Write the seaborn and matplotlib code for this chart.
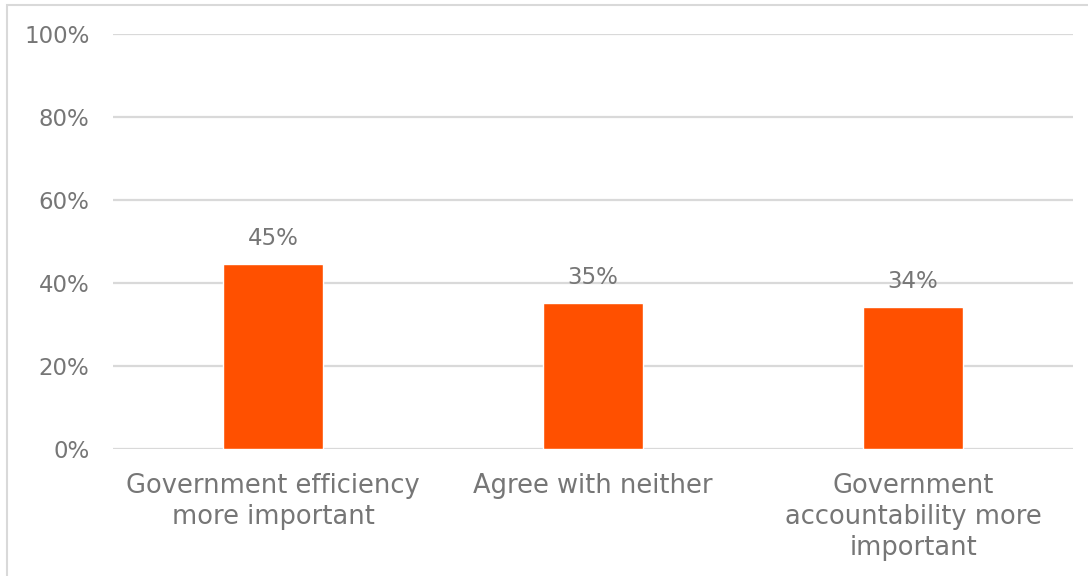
import matplotlib
matplotlib.use("Agg")
import matplotlib.pyplot as plt
import seaborn as sns
import pandas as pd
from matplotlib.patches import Rectangle
from matplotlib.ticker import PercentFormatter

categories = [
    "Government efficiency\nmore important",
    "Agree with neither",
    "Government\naccountability more\nimportant",
]
values = [44.6, 35.2, 34.2]
value_labels = ["45%", "35%", "34%"]

df = pd.DataFrame({"category": categories, "share": values})

sns.set_theme(style="white")
plt.rcParams["font.family"] = ["DejaVu Sans"]
text_gray = "#767676"
grid_gray = "#d9d9d9"

fig = plt.figure(figsize=(10.88, 5.76), dpi=100)
ax = fig.add_axes([113 / 1088, 1 - 449 / 576, 960 / 1088, 415 / 576])

sns.barplot(data=df, x="category", y="share", color="#ff5000", width=0.3125,
            saturation=1, ax=ax, zorder=3)

ax.set_ylim(0, 100)
ax.set_xlim(-0.5, 2.5)
ax.set_yticks([0, 20, 40, 60, 80, 100])
ax.yaxis.set_major_formatter(PercentFormatter(decimals=0))
ax.grid(axis="y", color=grid_gray, linewidth=1.6, zorder=0)
ax.set_axisbelow(True)
for s in ax.spines.values():
    s.set_visible(False)
ax.set_xlabel("")
ax.set_ylabel("")
ax.tick_params(axis="y", length=0, pad=17, labelsize=16.5, labelcolor=text_gray)
ax.tick_params(axis="x", length=0, pad=17, labelsize=18.5, labelcolor=text_gray)
for lbl in ax.get_xticklabels():
    lbl.set_linespacing(1.27)

for bar, txt in zip(ax.patches, value_labels):
    ax.annotate(txt, (bar.get_x() + bar.get_width() / 2, bar.get_height()),
                xytext=(0, 10), textcoords="offset points", ha="center",
                va="bottom", fontsize=16.5, color=text_gray)

fig.patches.append(Rectangle((7 / 1088, -0.1), 1.2, 1.1 - 5 / 576,
                             transform=fig.transFigure, fill=False,
                             edgecolor=grid_gray, linewidth=1.5))

fig.savefig("out.png", dpi=100, facecolor="white")
